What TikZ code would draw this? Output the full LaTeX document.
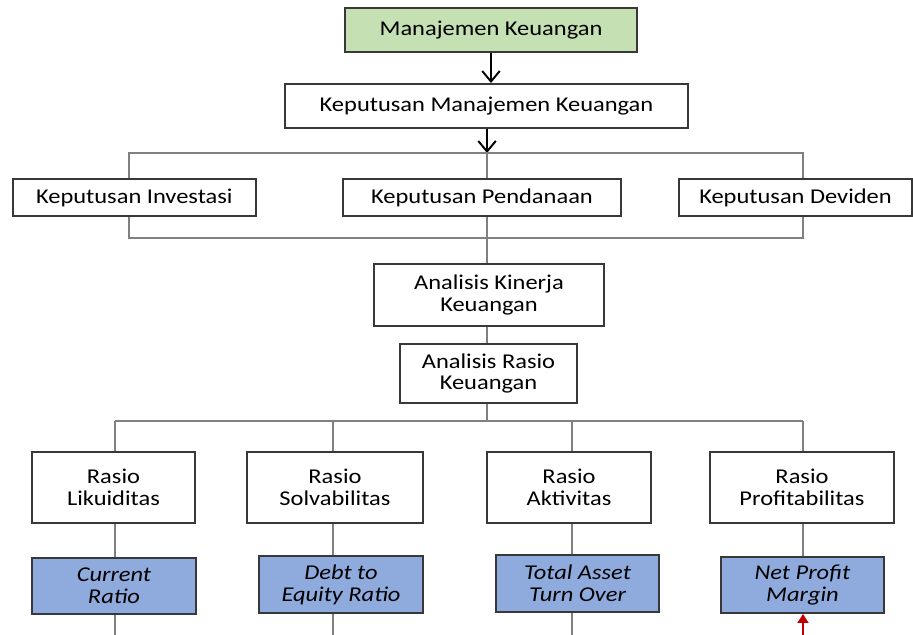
\documentclass[tikz,border=0pt]{standalone}
\usepackage{fontspec}
\setmainfont{Carlito}[FakeStretch=1.16]
\usetikzlibrary{arrows.meta}
\definecolor{hijau}{HTML}{C5E0B3}
\definecolor{biru}{HTML}{8FAADC}
\definecolor{merah}{HTML}{C00000}

\begin{document}
\begin{tikzpicture}[x=0.02cm, y=-0.02cm,
  kotak/.style={draw=black!78, line width=1.1pt, fill=white, align=center, inner sep=0pt,
    font=\fontsize{12}{12.5}\selectfont},
  kotakhijau/.style={kotak, fill=hijau},
  kotakbiru/.style={kotak, fill=biru, font=\fontsize{12}{12.5}\selectfont\itshape},
  garis/.style={draw=black!50, line width=0.8pt},
  panah/.style={draw=black, line width=1.1pt, -{Straight Barb[length=6pt,width=10pt]}},
  panahmerah/.style={draw=merah, line width=1.2pt, -{Triangle[length=5pt,width=6pt]}}]
  \useasboundingbox (0,0) rectangle (913,635);

  % atas
  \node[kotakhijau, minimum width=5.84cm, minimum height=0.88cm] (mk) at (491,30) {Manajemen Keuangan};
  \node[kotak, minimum width=8.06cm, minimum height=0.88cm] (kmk) at (486.5,106) {Keputusan Manajemen Keuangan};

  % keputusan
  \node[kotak, minimum width=4.86cm, minimum height=0.74cm] (inv) at (134.3,197.5) {Keputusan Investasi};
  \node[kotak, minimum width=5.56cm, minimum height=0.74cm] (pend) at (482,197.5) {Keputusan Pendanaan};
  \node[kotak, minimum width=4.66cm, minimum height=0.74cm] (dev) at (795.5,197.5) {Keputusan Deviden};

  % analisis
  \node[kotak, minimum width=4.6cm, minimum height=1.24cm] (kin) at (489,295) {Analisis Kinerja\\Keuangan};
  \node[kotak, minimum width=3.54cm, minimum height=1.18cm] (rk) at (488.5,373.5) {Analisis Rasio\\Keuangan};

  % rasio
  \node[kotak, minimum width=3.26cm, minimum height=1.42cm] (lik) at (113.5,487.5) {Rasio\\Likuiditas};
  \node[kotak, minimum width=3.52cm, minimum height=1.42cm] (solv) at (335,487.5) {Rasio\\Solvabilitas};
  \node[kotak, minimum width=3.28cm, minimum height=1.42cm] (akt) at (569,487.5) {Rasio\\Aktivitas};
  \node[kotak, minimum width=3.68cm, minimum height=1.42cm] (prof) at (802,487.5) {Rasio\\Profitabilitas};

  \node[kotakbiru, minimum width=3.28cm, minimum height=1.12cm] (cr) at (114,586) {Current\\Ratio};
  \node[kotakbiru, minimum width=3.28cm, minimum height=1.14cm] (der) at (341,584.5) {Debt to\\Equity Ratio};
  \node[kotakbiru, minimum width=3.26cm, minimum height=1.14cm] (tat) at (577.5,583.5) {Total Asset\\Turn Over};
  \node[kotakbiru, minimum width=3.26cm, minimum height=1.12cm] (npm) at (802.5,585) {Net Profit\\Margin};

  \coordinate (atas) at (487,153);
  \coordinate (kiri) at (129,153);
  \coordinate (kanan) at (803,153);
  \coordinate (bawah) at (487,238);
  \coordinate (bus) at (487,421);

  % garis penghubung
  \draw[panah] (mk.south) -- (mk.south |- kmk.north);
  \draw[panah] (kmk.south -| atas) -- (atas);
  \draw[garis] (inv.north -| kiri) -- (kiri) -- (kanan) -- (dev.north -| kanan);
  \draw[garis] (atas) -- (pend.north -| atas);
  \draw[garis] (inv.south -| kiri) -- (kiri |- bawah) -- (kanan |- bawah) -- (dev.south -| kanan);
  \draw[garis] (pend.south -| atas) -- (kin.north -| atas);
  \draw[garis] (kin.south -| atas) -- (rk.north -| atas);
  \draw[garis] (rk.south -| atas) -- (bus);
  \draw[garis] (115,421) -- (803,421);
  \foreach \a/\b/\x in {lik/cr/115, solv/der/333, akt/tat/572} {
    \draw[garis] (\x,421) -- (\a.north -| \x,0);
    \draw[garis] (\a.south -| \x,0) -- (\b.north -| \x,0);
    \draw[garis] (\b.south -| \x,0) -- (\x,635);
  }
  \draw[garis] (803,421) -- (prof.north -| 803,0);
  \draw[garis] (prof.south -| 803,0) -- (npm.north -| 803,0);
  \coordinate (merahbawah) at (803,635);
  \draw[panahmerah] (merahbawah) -- (npm.south -| merahbawah);
\end{tikzpicture}
\end{document}
